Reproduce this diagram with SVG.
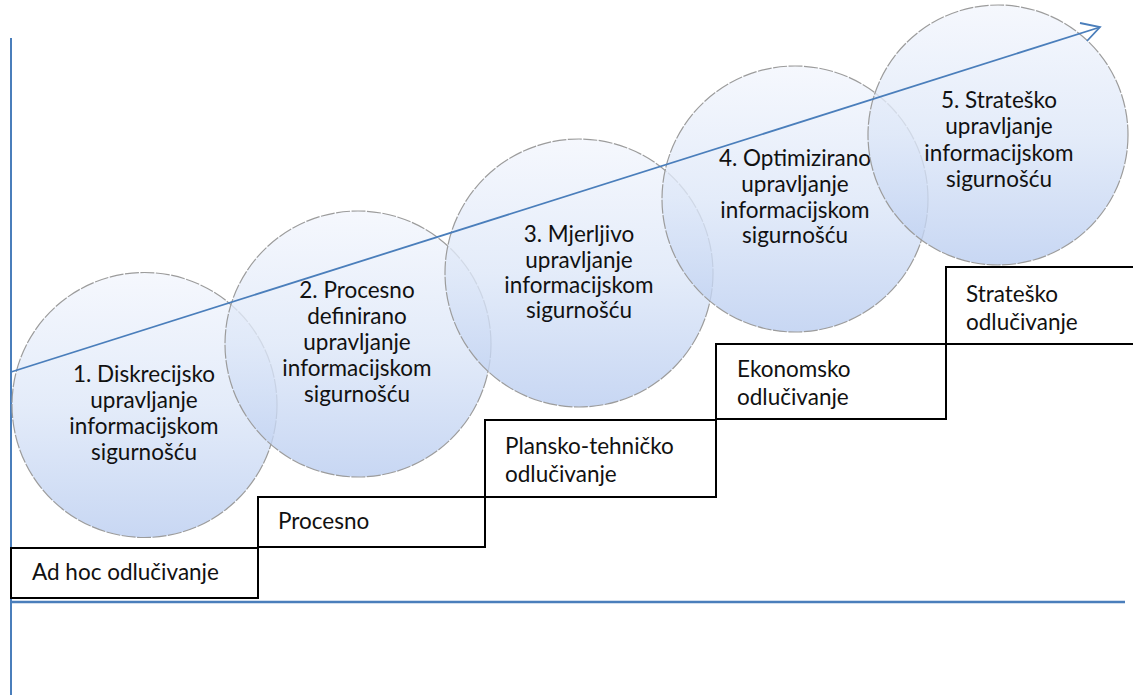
<svg xmlns="http://www.w3.org/2000/svg" width="1133" height="695" viewBox="0 0 1133 695">
  <defs>
    <linearGradient id="cg" x1="0" y1="0" x2="0" y2="1">
      <stop offset="0" stop-color="#f3f6fd"/>
      <stop offset="0.5" stop-color="#dde7f8"/>
      <stop offset="1" stop-color="#bacdf0"/>
    </linearGradient>
  </defs>
  <style>
    .c { fill: url(#cg); fill-opacity: 0.8; stroke: #9c9c9c; stroke-width: 1.2; stroke-dasharray: 14 1.5; }
    .ct { font-family: Lato, "Liberation Sans", sans-serif; font-size: 22.5px; fill: #111; text-anchor: middle; }
    .bx { fill: #ffffff; stroke: #000; stroke-width: 2; }
    .bt { font-family: Lato, "Liberation Sans", sans-serif; font-size: 22.5px; fill: #111; }
    .ax { stroke: #4a7ebb; fill: none; }
  </style>
  <rect width="1133" height="695" fill="#ffffff"/>

  <g id="axes">
    <line class="ax" x1="11" y1="38" x2="11" y2="695" stroke-width="2"/>
    <line class="ax" x1="10" y1="602" x2="1125" y2="602" stroke-width="2.5"/>
  </g>

  <g id="step1">
    <rect class="bx" x="11" y="548" width="247" height="50"/>
    <text class="bt" x="32" y="580">Ad hoc odlučivanje</text>
  </g>
  <g id="step2">
    <rect class="bx" x="258" y="497" width="227" height="50"/>
    <text class="bt" x="278" y="529">Procesno</text>
  </g>
  <g id="step3">
    <rect class="bx" x="485" y="420" width="231" height="77"/>
    <text class="bt" x="505" y="454">Plansko-tehničko</text>
    <text class="bt" x="505" y="482">odlučivanje</text>
  </g>
  <g id="step4">
    <rect class="bx" x="716" y="344" width="230" height="75"/>
    <text class="bt" x="737" y="377">Ekonomsko</text>
    <text class="bt" x="737" y="405">odlučivanje</text>
  </g>
  <g id="step5">
    <rect class="bx" x="946" y="267" width="200" height="77"/>
    <text class="bt" x="966" y="302">Strateško</text>
    <text class="bt" x="966" y="330">odlučivanje</text>
  </g>

  <g id="level1">
    <circle class="c" cx="144.5" cy="405" r="132.5"/>
    <text class="ct" x="144" y="382">1. Diskrecijsko</text>
    <text class="ct" x="144" y="408">upravljanje</text>
    <text class="ct" x="144" y="434">informacijskom</text>
    <text class="ct" x="144" y="460">sigurnošću</text>
  </g>
  <g id="level2">
    <circle class="c" cx="358" cy="344" r="133"/>
    <text class="ct" x="357" y="298">2. Procesno</text>
    <text class="ct" x="357" y="324">definirano</text>
    <text class="ct" x="357" y="350">upravljanje</text>
    <text class="ct" x="357" y="376">informacijskom</text>
    <text class="ct" x="357" y="402">sigurnošću</text>
  </g>
  <g id="level3">
    <circle class="c" cx="579" cy="273" r="134"/>
    <text class="ct" x="579" y="242">3. Mjerljivo</text>
    <text class="ct" x="579" y="268">upravljanje</text>
    <text class="ct" x="579" y="293">informacijskom</text>
    <text class="ct" x="579" y="318">sigurnošću</text>
  </g>
  <g id="level4">
    <circle class="c" cx="795" cy="199" r="133"/>
    <text class="ct" x="795" y="166">4. Optimizirano</text>
    <text class="ct" x="795" y="192">upravljanje</text>
    <text class="ct" x="795" y="218">informacijskom</text>
    <text class="ct" x="795" y="243">sigurnošću</text>
  </g>
  <g id="level5">
    <circle class="c" cx="998" cy="135" r="130"/>
    <text class="ct" x="999" y="108">5. Strateško</text>
    <text class="ct" x="999" y="134">upravljanje</text>
    <text class="ct" x="999" y="161">informacijskom</text>
    <text class="ct" x="999" y="187">sigurnošću</text>
  </g>

  <g id="connectors">
    <line class="ax" x1="11" y1="372" x2="1099" y2="27.5" stroke-width="1.8"/>
    <polyline class="ax" points="1080,23 1100,27 1087,41" stroke-width="1.8" stroke-linejoin="miter"/>
  </g>
</svg>
